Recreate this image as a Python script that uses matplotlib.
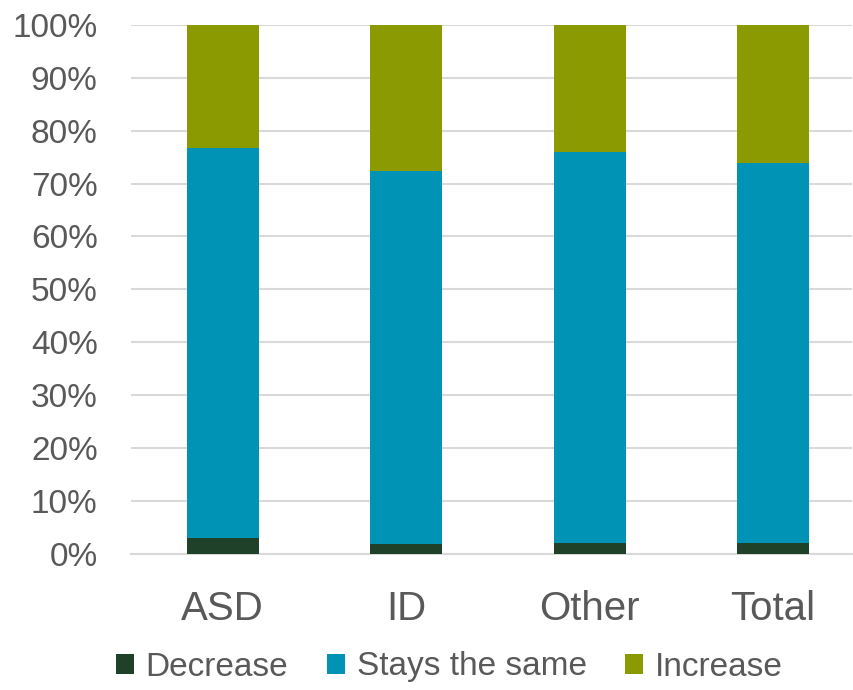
import matplotlib
matplotlib.use('Agg')
import matplotlib.pyplot as plt
from matplotlib.ticker import PercentFormatter

categories = ['ASD', 'ID', 'Other', 'Total']
decrease = [2.9, 1.8, 2.0, 2.0]
stays_same = [73.9, 70.5, 74.0, 71.9]
increase = [23.2, 27.7, 24.0, 26.1]
series_names = ['Decrease', 'Stays the same', 'Increase']
colors = ['#1f4029', '#0093b5', '#8a9a00']

plt.rcParams['font.family'] = ['Liberation Sans', 'DejaVu Sans']

fig = plt.figure(figsize=(8.54, 6.9), dpi=100)
ax = fig.add_axes([131/854, 1 - 553.5/690, (852-131)/854, (553.5-25)/690])

x = range(len(categories))
w = 0.393
bottom = [0] * len(categories)
for name, vals, c in zip(series_names, [decrease, stays_same, increase], colors):
    ax.bar(x, vals, w, bottom=bottom, color=c, label=name, zorder=3)
    bottom = [b + v for b, v in zip(bottom, vals)]

ax.set_ylim(0, 100)
ax.set_xlim(-0.5, 3.43)
ax.set_yticks(range(0, 101, 10))
ax.yaxis.set_major_formatter(PercentFormatter(decimals=0))
ax.set_xticks(list(x))
ax.set_xticklabels(categories)
ax.grid(axis='y', color='#d9d9d9', linewidth=1.5, zorder=0)
for s in ['top', 'right', 'left']:
    ax.spines[s].set_visible(False)
ax.spines['bottom'].set_color('#d9d9d9')
ax.spines['bottom'].set_linewidth(1.5)
ax.tick_params(axis='both', length=0, colors='#595959')
ax.tick_params(axis='y', labelsize=24, pad=24)
ax.tick_params(axis='x', labelsize=29, pad=26)

fig.legend(loc='center', bbox_to_anchor=(0.526, 1 - 667/690), ncol=3, frameon=False,
           fontsize=24, labelcolor='#595959', handlelength=0.55, handleheight=0.55,
           handletextpad=0.35, columnspacing=1.15)

fig.savefig('out.png', dpi=100)
